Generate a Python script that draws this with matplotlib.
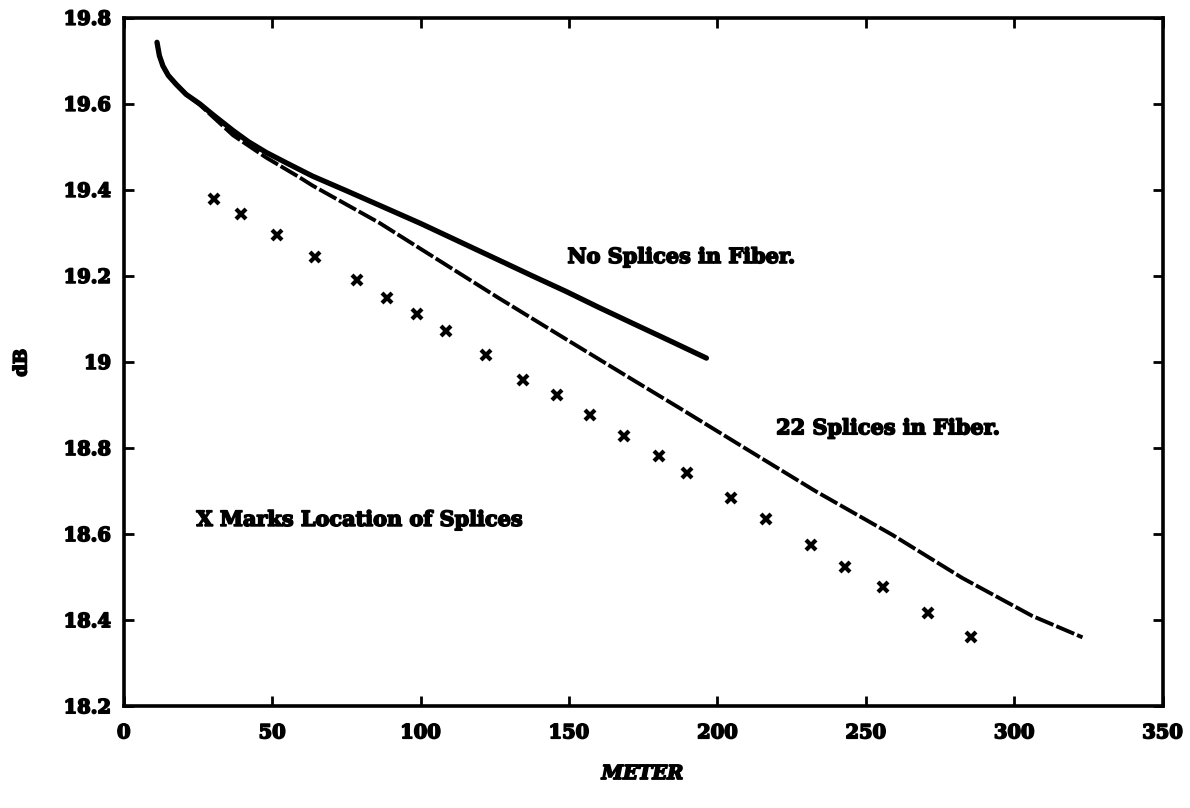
import matplotlib
matplotlib.use("Agg")
import matplotlib.pyplot as plt
import matplotlib.patheffects as pe

# OTDR trace: loss in dB along the fibre (meters)
x_nosplice = [11.2, 12.0, 13.2, 15.0, 17.7, 21.0, 25.6, 30.0, 36.8, 42.0, 48.0, 55.0,
              63.6, 75.0, 86.2, 100.0, 113.0, 126.6, 138.0, 149.0, 160.0, 171.4, 185.0, 196.3]
y_nosplice = [19.743, 19.712, 19.688, 19.666, 19.645, 19.622, 19.600, 19.575, 19.538,
              19.512, 19.487, 19.462, 19.432, 19.398, 19.364, 19.322, 19.280, 19.236,
              19.199, 19.164, 19.127, 19.090, 19.046, 19.009]

x_22splices = [11.2, 12.0, 13.2, 15.0, 17.7, 21.0, 25.6, 30.0, 36.8, 48.0, 59.0, 63.6,
               86.2, 100.0, 126.0, 149.0, 171.4, 187.0, 209.7, 233.0, 259.0, 282.5,
               306.0, 323.0]
y_22splices = [19.743, 19.712, 19.688, 19.666, 19.645, 19.622, 19.598, 19.570, 19.527,
               19.475, 19.430, 19.410, 19.323, 19.263, 19.150, 19.053, 18.959, 18.894,
               18.798, 18.700, 18.598, 18.498, 18.410, 18.360]

# splice locations
x_splice = [30.4, 39.4, 51.7, 64.3, 78.5, 88.8, 98.7, 108.4, 121.9, 134.4, 146.0,
            157.2, 168.5, 180.2, 189.8, 204.6, 216.4, 231.5, 243.1, 255.7, 271.0, 285.4]
y_splice = [19.378, 19.343, 19.294, 19.243, 19.190, 19.148, 19.111, 19.072, 19.016,
            18.958, 18.923, 18.877, 18.828, 18.781, 18.743, 18.683, 18.634, 18.574,
            18.524, 18.476, 18.416, 18.360]

xticks = [0, 50, 100, 150, 200, 250, 300, 350]
yticks = [18.2, 18.4, 18.6, 18.8, 19.0, 19.2, 19.4, 19.6, 19.8]
ytick_labels = ["18.2", "18.4", "18.6", "18.8", "19", "19.2", "19.4", "19.6", "19.8"]

plt.rcParams["font.family"] = "DejaVu Serif"
plt.rcParams["font.weight"] = "bold"

# heavier strokes for all text
heavy = [pe.withStroke(linewidth=1.2, foreground="black")]

fig = plt.figure(figsize=(11.9, 8.08), dpi=100)
ax = fig.add_axes([0.104, 0.126, 0.873, 0.852])

ax.plot(x_nosplice, y_nosplice, color="black", lw=3.8, solid_capstyle="round",
        solid_joinstyle="round")
ax.plot(x_22splices, y_22splices, color="black", lw=2.8, dashes=(5, 0.8))
ax.plot(x_splice, y_splice, "x", color="black", ms=6.5, mew=3)

ax.text(149.5, 19.244, "No Splices in Fiber.", fontsize=15, fontweight="bold",
        va="center", path_effects=heavy)
ax.text(219.8, 18.846, "22 Splices in Fiber.", fontsize=15, fontweight="bold",
        va="center", path_effects=heavy)
ax.text(24.5, 18.633, "X Marks Location of Splices", fontsize=15, fontweight="bold",
        va="center", path_effects=heavy)

ax.set_xlim(0, 350)
ax.set_ylim(18.2, 19.8)
ax.set_xticks(xticks)
ax.set_yticks(yticks)
ax.set_yticklabels(ytick_labels)
ax.tick_params(direction="in", length=7, width=2, labelsize=14, pad=9,
               top=True, right=True)
ax.tick_params(axis="x", pad=13)
for lab in ax.get_xticklabels() + ax.get_yticklabels():
    lab.set_path_effects(heavy)
for s in ax.spines.values():
    s.set_linewidth(2.6)

fig.text(0.018, 0.551, "dB", rotation=90, fontsize=13, fontweight="bold",
         va="center", ha="center", path_effects=heavy)
fig.text(0.54, 0.042, "METER", fontsize=14, fontweight="bold", fontstyle="italic",
         va="center", ha="center", path_effects=heavy)

fig.savefig("out.png", dpi=100)
